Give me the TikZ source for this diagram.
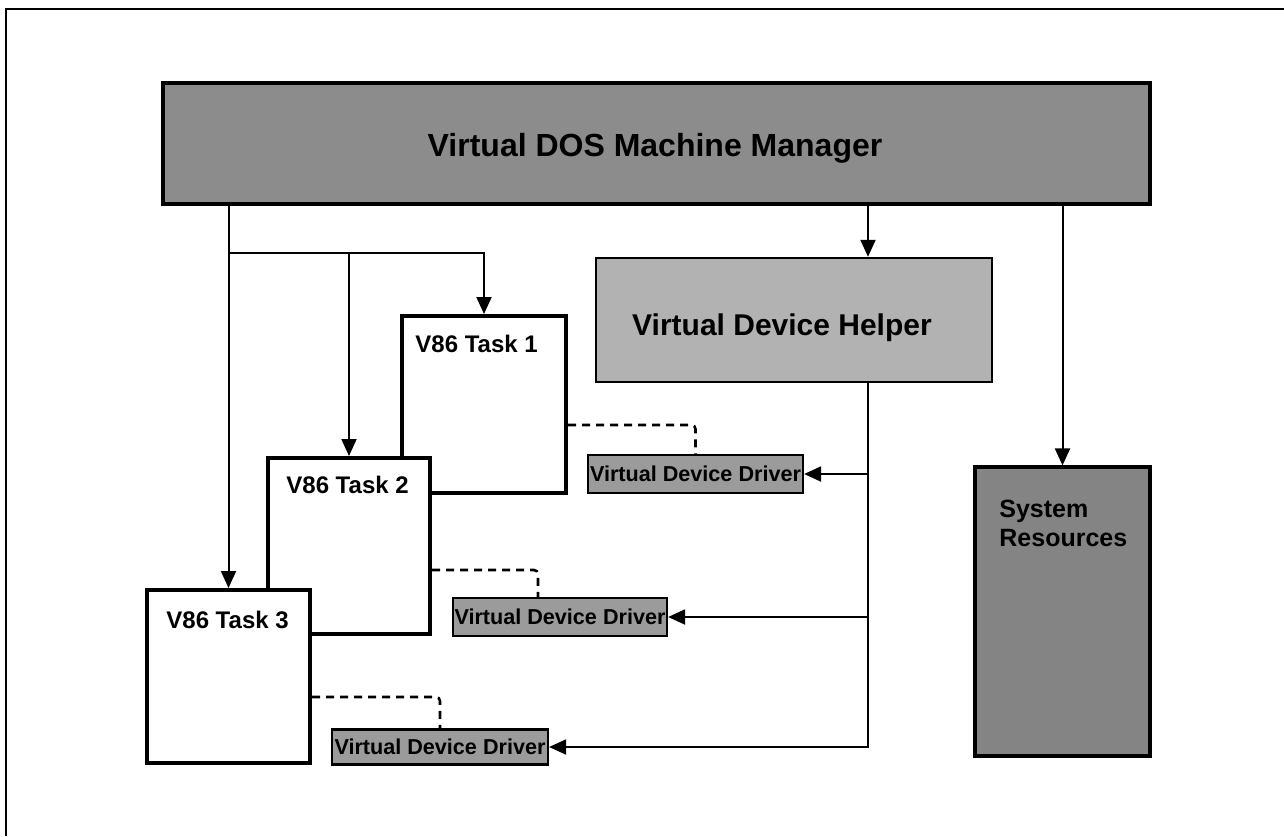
\documentclass[tikz,border=0pt]{standalone}
\usepackage{fontspec}
\setmainfont{Liberation Sans}
\usetikzlibrary{arrows.meta}
\definecolor{mgrfill}{RGB}{140,140,140}
\definecolor{helperfill}{RGB}{178,178,178}
\definecolor{driverfill}{RGB}{155,155,155}
\definecolor{resfill}{RGB}{132,132,132}
\begin{document}
\begin{tikzpicture}[x=0.5pt,y=-0.5pt,
  conn/.style={line width=1pt},
  arr/.style={conn,-{Triangle[length=8.5pt,width=7.5pt]}},
  dashconn/.style={line width=1.3pt,dash pattern=on 4pt off 3pt,rounded corners=2pt},
  shaded/.style={draw,fill=#1,inner sep=0pt},
  task/.style={draw,line width=2pt,fill=white,inner sep=0pt},
  tasklabel/.style={anchor=west,inner sep=0pt,font=\bfseries\fontsize{12}{14}\selectfont},
  driver/.style={shaded=driverfill,line width=1.1pt,font=\bfseries\fontsize{10.8}{12}\selectfont}
]
\useasboundingbox (0,0) rectangle (1284,836);

% page frame
\draw[line width=1pt] (1284,9) -- (6,9) -- (6,836);

% manager, helper and system resources
\node[shaded=mgrfill,line width=2pt,minimum width=493.5pt,minimum height=60.5pt] (vdmm) at (656.5,143.5) {};
\node[font=\bfseries\fontsize{16}{18}\selectfont,inner sep=0pt] (vdmmtext) at (655,148) {Virtual DOS Machine Manager};
\node[shaded=helperfill,line width=1.2pt,minimum width=198pt,minimum height=62pt] (vdh) at (794,320) {};
\node[font=\bfseries\fontsize{15}{17}\selectfont,inner sep=0pt] (vdhtext) at (782,328) {Virtual Device Helper};
\node[shaded=resfill,line width=1.6pt,minimum width=87.5pt,minimum height=144.5pt] (sys) at (1062.5,611.5) {};
\node[anchor=north west,align=left,inner sep=0pt,
      font=\bfseries\fontsize{12.5}{14.5}\selectfont] (systext) at (999,500) {System\\Resources};

% V86 tasks, stacked back to front
\node[task,minimum width=82pt,minimum height=88.5pt] (t1) at (484,404.5) {};
\node[tasklabel] (t1text) at (415,344) {V86 Task 1};
\node[task,minimum width=81pt,minimum height=88pt] (t2) at (349,546) {};
\node[tasklabel] (t2text) at (286,485) {V86 Task 2};
\node[task,minimum width=81.5pt,minimum height=86.5pt] (t3) at (228.5,676.5) {};
\node[tasklabel] (t3text) at (166,620) {V86 Task 3};

% virtual device drivers
\node[driver,minimum width=107.5pt,minimum height=19pt] (vdd1) at (695.5,474) {Virtual Device Driver};
\node[driver,minimum width=107pt,minimum height=19pt] (vdd2) at (560,617) {Virtual Device Driver};
\node[driver,minimum width=108pt,minimum height=17.5pt] (vdd3) at (440,747) {Virtual Device Driver};

% manager to tasks
\coordinate (split) at (229,253);
\draw[arr] (vdmm.south -| t3.north) -- (t3.north);
\draw[arr] (split) -| (t1.north);
\draw[arr] (split -| t2.north) -- (t2.north);

% manager to helper and resources
\coordinate (hx) at (868,0);
\draw[arr] (vdmm.south -| hx) -- (vdh.north -| hx);
\draw[arr] (vdmm.south -| sys.north) -- (sys.north);

% helper bus to drivers
\draw[arr] (vdh.south -| hx) |- (vdd3.east);
\draw[arr] (hx |- vdd1.east) -- (vdd1.east);
\draw[arr] (hx |- vdd2.east) -- (vdd2.east);

% tasks to their drivers
\coordinate (d1) at (0,425);
\coordinate (d2) at (538,570);
\coordinate (d3) at (0,697);
\draw[dashconn] (t1.east |- d1) -| (vdd1.north);
\draw[dashconn] (t2.east |- d2) -| (vdd2.north -| d2);
\draw[dashconn] (t3.east |- d3) -| (vdd3.north);
\end{tikzpicture}
\end{document}
